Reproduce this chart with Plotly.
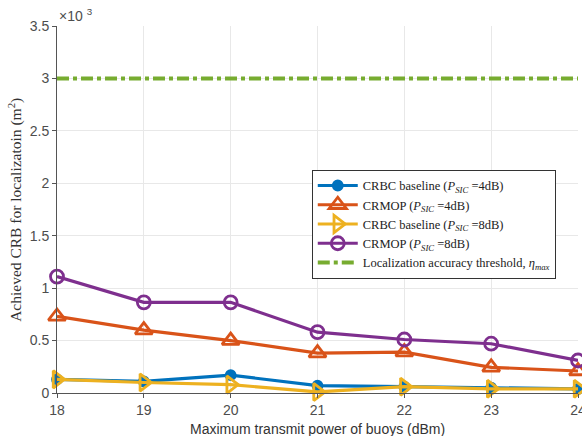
import plotly.graph_objects as go

power = [18, 19, 20, 21, 22, 23, 24]
crbc_4 = [0.13, 0.11, 0.17, 0.07, 0.06, 0.05, 0.04]
crmop_4 = [0.73, 0.60, 0.50, 0.38, 0.39, 0.245, 0.21]
crbc_8 = [0.13, 0.10, 0.08, 0.01, 0.06, 0.04, 0.04]
crmop_8 = [1.11, 0.865, 0.865, 0.58, 0.51, 0.47, 0.31]
threshold = [3.0] * len(power)
y_ticks = [0, 0.5, 1, 1.5, 2, 2.5, 3, 3.5]
y_ticktext = ["0", "0.5", "1", "1.5", "2", "2.5", "3", "3.5"]

names = [
    "CRBC baseline (<i>P<sub>SIC</sub></i> =4dB)",
    "CRMOP (<i>P<sub>SIC</sub></i> =4dB)",
    "CRBC baseline (<i>P<sub>SIC</sub></i> =8dB)",
    "CRMOP (<i>P<sub>SIC</sub></i> =8dB)",
    "Localization accuracy threshold, <i>η<sub>max</sub></i>",
]
colors = ["#0072BD", "#D95319", "#EDB120", "#7E2F8E", "#77AC30"]
symbols = ["circle", "triangle-up-open", "triangle-right-open", "circle-open"]
sizes = [9, 15, 15, 13]
series = [crbc_4, crmop_4, crbc_8, crmop_8]

fig = go.Figure()
for s, n, c, sym, sz in zip(series, names, colors, symbols, sizes):
    fig.add_trace(go.Scatter(
        x=power, y=s, name=n, mode="lines+markers",
        line=dict(color=c, width=3.2),
        marker=dict(symbol=sym, size=sz, color=c, line=dict(color=c, width=2.8)),
        cliponaxis=False,
    ))
fig.add_trace(go.Scatter(
    x=power, y=threshold, name=names[4], mode="lines",
    line=dict(color=colors[4], width=4, dash="dashdot"),
))

axis_common = dict(
    showgrid=True, gridcolor="#e8e8e8", gridwidth=1,
    showline=True, linecolor="#555555", linewidth=1,
    ticks="outside", ticklen=4, tickcolor="#555555",
    tickfont=dict(family="Liberation Sans, Arial", size=14, color="#4d4d4d"),
    zeroline=False, mirror=False, automargin=False,
)
fig.update_xaxes(range=[18, 24], tickvals=power, ticklabeloverflow="allow", **axis_common)
fig.update_yaxes(range=[0, 3.5], tickvals=y_ticks, ticktext=y_ticktext, **axis_common)

fig.add_annotation(xref="paper", yref="paper", x=0.5, y=-0.098, xanchor="center", yanchor="middle",
                   text="Maximum transmit power of buoys (dBm)", showarrow=False,
                   font=dict(family="Liberation Sans, Arial", size=14, color="#333333"))
fig.add_annotation(xref="paper", yref="paper", x=-0.08, y=0.5, xanchor="center", yanchor="middle",
                   text="Achieved CRB for localizatoin (m<sup>2</sup>)", textangle=-90, showarrow=False,
                   font=dict(family="Liberation Serif, serif", size=15.5, color="#333333"))
fig.add_annotation(xref="paper", yref="paper", x=0.0, y=1.0, xanchor="left", yanchor="bottom",
                   text="×10 <sup>3</sup>", showarrow=False,
                   font=dict(family="Liberation Sans, Arial", size=14, color="#4d4d4d"))

fig.update_layout(
    width=582, height=436,
    margin=dict(l=57, r=4, t=26, b=43),
    plot_bgcolor="white", paper_bgcolor="white",
    legend=dict(x=0.489, y=0.608, xanchor="left", yanchor="top",
                bgcolor="white", bordercolor="#333333", borderwidth=1,
                font=dict(family="Liberation Serif, serif", size=12.5, color="#222222"),
                tracegroupgap=0, itemwidth=40),
    showlegend=True,
)

fig.write_html("out.html", config={"displayModeBar": False},
               post_script="document.body.style.margin='0';document.body.style.padding='0';"
                           "document.body.style.overflow='hidden';")
